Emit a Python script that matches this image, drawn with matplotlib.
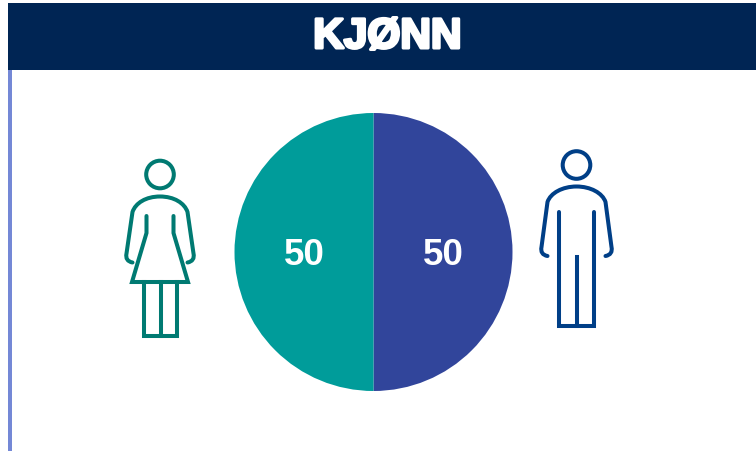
import matplotlib
matplotlib.use('Agg')
import matplotlib.pyplot as plt
import matplotlib.patheffects as pe
from matplotlib.patches import Circle, Rectangle, PathPatch
from matplotlib.path import Path

title = 'KJØNN'
shares = [50, 50]
share_colors = ['#31459B', '#009C9A']  # man, woman

W, H = 756, 451
fig = plt.figure(figsize=(W / 100, H / 100), dpi=100)

# overlay in pixel coords for the header and the icons
bg = fig.add_axes([0, 0, 1, 1])
bg.set_xlim(0, W)
bg.set_ylim(H, 0)
bg.axis('off')

bg.add_patch(Rectangle((8, 70), 4, H - 70, fc='#7488D6', ec='none'))
bg.add_patch(Rectangle((8, 3), W - 8, 67, fc='#002554', ec='none'))
bg.text(387.5, 37, title, color='white', fontsize=30.5, fontweight='bold', family='Liberation Sans',
        ha='center', va='center',
        path_effects=[pe.withStroke(linewidth=2.2, foreground='white')])


def outline(cx, top, shoulder_y, hand_y, half, color):
    # arms and shoulders of a figure, mirrored round cx
    M, L, C = Path.MOVETO, Path.LINETO, Path.CURVE4
    verts = [(cx - half + 6, hand_y),
             (cx - half + 1, hand_y - 1), (cx - half - 1, hand_y - 4), (cx - half, hand_y - 9),
             (cx - half + 6, shoulder_y + 3),
             (cx - half + 9, shoulder_y - 6), (cx - 14, top), (cx, top),
             (cx + 14, top), (cx + half - 9, shoulder_y - 6), (cx + half - 6, shoulder_y + 3),
             (cx + half, hand_y - 9),
             (cx + half + 1, hand_y - 4), (cx + half - 1, hand_y - 1), (cx + half - 6, hand_y)]
    codes = [M, C, C, C, L, C, C, C, C, C, C, L, C, C, C]
    bg.add_patch(PathPatch(Path(verts, codes), fc='none', ec=color, lw=lw, capstyle='round', joinstyle='round'))


# woman icon
c = '#007A72'
lw = 2.9
bg.add_patch(Circle((160, 174.5), 13.8, fc='none', ec=c, lw=lw))
outline(160, 196.5, 209, 262.5, 33.5, c)
bg.plot([146.5, 146.5, 132, 188, 173.5, 173.5], [216, 233, 282, 282, 233, 216],
        color=c, lw=lw, solid_capstyle='round', solid_joinstyle='miter')
bg.plot([144, 144, 177, 177], [282, 335.5, 335.5, 282], color=c, lw=lw, solid_joinstyle='miter')
bg.plot([160.5, 160.5], [282, 335.5], color=c, lw=lw)

# man icon
c = '#003F87'
bg.add_patch(Circle((576.5, 165), 13.8, fc='none', ec=c, lw=lw))
outline(576.5, 186.5, 199, 256, 35, c)
bg.plot([558.5, 558.5, 594, 594], [212, 325.5, 325.5, 212], color=c, lw=lw,
        solid_capstyle='round', solid_joinstyle='miter')
bg.plot([576.5, 576.5], [257, 325.5], color=c, lw=lw)

# pie
cx, cy, r = 373.5, 252, 139
ax = fig.add_axes([(cx - r) / W, 1 - (cy + r) / H, 2 * r / W, 2 * r / H])
ax.pie(shares, colors=share_colors, startangle=90, counterclock=False, radius=1,
       wedgeprops={'linewidth': 0})
ax.set_xlim(-1, 1)
ax.set_ylim(-1, 1)
ax.text(0.5, -0.025, str(shares[0]), color='white', fontsize=26.5, fontweight='bold',
        family='Liberation Sans', ha='center', va='center')
ax.text(-0.5, -0.025, str(shares[1]), color='white', fontsize=26.5, fontweight='bold',
        family='Liberation Sans', ha='center', va='center')

fig.savefig('out.png', dpi=100)
